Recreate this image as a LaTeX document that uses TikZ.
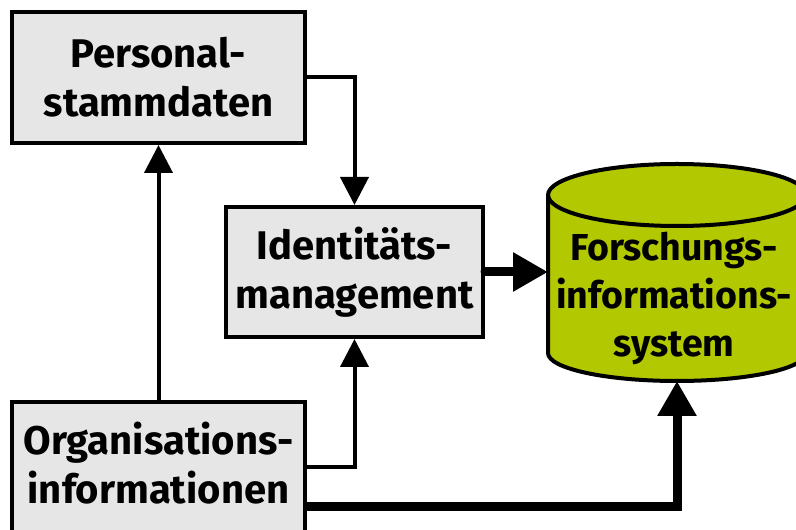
\documentclass[tikz,border=0pt]{standalone}
\usepackage{fontspec}
\setmainfont{Fira Sans}[UprightFont=* Bold]
\usetikzlibrary{arrows.meta}
\definecolor{boxgray}{HTML}{E6E6E6}
\definecolor{dbgreen}{HTML}{B2C800}
\tikzset{
  labelfont/.style={font=\fontsize{40}{49}\selectfont},
  infobox/.style={draw=black, fill=boxgray, line width=4pt, align=center,
    inner sep=0pt, labelfont},
  thinflow/.style={line width=4pt, -{Triangle[width=28pt,length=28pt]}},
  thickflow/.style={line width=9pt, line cap=round, -{Triangle[width=37pt,length=35pt]}},
}
\begin{document}
\begin{tikzpicture}[x=1pt,y=1pt]
\useasboundingbox (0,0) rectangle (796,530);
% source and processing boxes
\node[infobox, minimum width=293pt, minimum height=131pt] (P) at (158.5,452.5) {Personal-\\stammdaten};
\node[infobox, minimum width=257pt, minimum height=130pt] (I) at (354.5,258) {Identitäts-\\management};
\node[infobox, minimum width=293pt, minimum height=135pt] (O) at (158.5,60.5)
  {\raisebox{4pt}{\begin{tabular}{@{}c@{}}Organisations-\\informationen\end{tabular}}};
% database cylinder
\filldraw[fill=dbgreen, draw=black, line width=4pt]
  (548,335) -- (548,177) arc[start angle=180, end angle=360, x radius=129, y radius=28]
  -- (806,335) arc[start angle=0, end angle=180, x radius=129, y radius=31] -- cycle;
\draw[line width=4pt] (548,335) arc[start angle=180, end angle=360, x radius=129, y radius=31];
\node[align=center, inner sep=0pt, font=\fontsize{37.5}{48}\selectfont] (F) at (674,232) {Forschungs-\\informations-\\system};
\coordinate (Fleft) at (548,258);
\coordinate (Fbottom) at (677,149);
% data flows
\draw[thinflow] (P.east) -| (I.north);
\draw[thinflow] (O.north) -- (P.south);
\draw[thinflow] ([yshift=2.5pt]O.east) -| (I.south);
\draw[thickflow] (I.east) -- (Fleft);
\coordinate (Oexit) at ([yshift=-37.5pt]O.east);
\draw[thickflow, line cap=butt] (Oexit) -| (Fbottom);
\end{tikzpicture}
\end{document}
